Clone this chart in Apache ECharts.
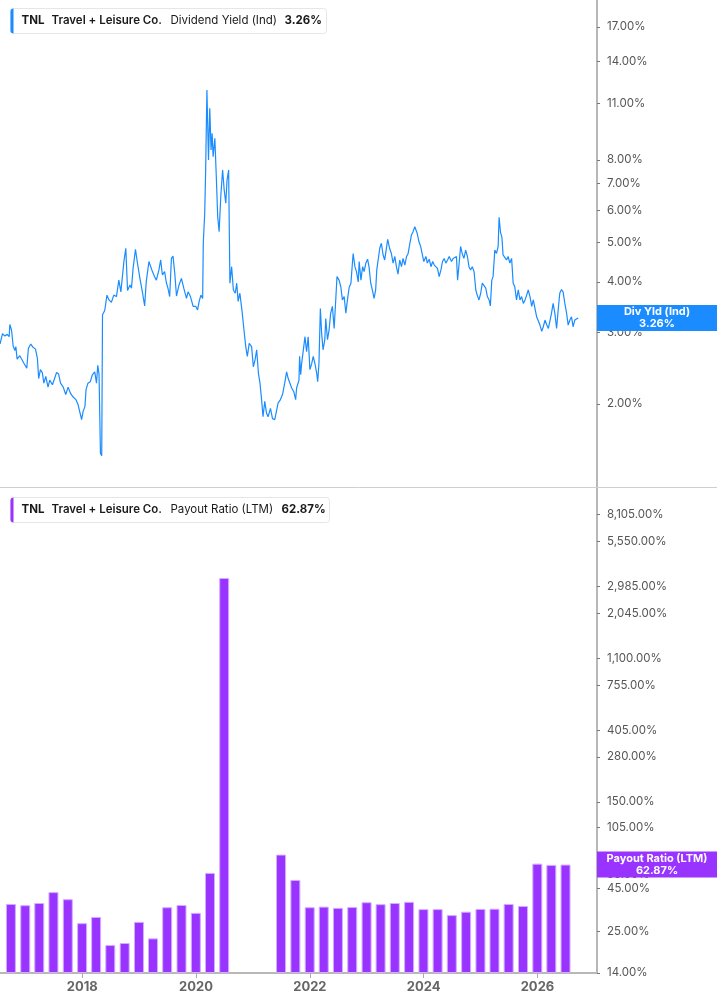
<!DOCTYPE html>
<html>
<head>
<meta charset="utf-8">
<script src="https://cdn.jsdelivr.net/npm/echarts@6/dist/echarts.min.js"></script>
<style>
html,body{margin:0;padding:0;background:#fff;}
#chart{width:717px;height:1005px;}
</style>
</head>
<body>
<div id="chart"></div>
<script>
// ---------- DATA ----------
const ticker = 'TNL';
const company = 'Travel + Leisure Co.';
const yieldName = 'Dividend Yield (Ind)';
const yieldShort = 'Div Yld (Ind)';
const payoutName = 'Payout Ratio (LTM)';

const divYieldDates = [
'2016-08-23','2016-09-08','2016-09-23','2016-10-07','2016-10-20','2016-10-24','2016-11-04','2016-11-14','2016-11-25','2016-12-01',
'2016-12-09','2016-12-26','2017-01-07','2017-01-21','2017-02-08','2017-02-18','2017-03-05','2017-03-19','2017-04-04','2017-04-16',
'2017-04-24','2017-05-05','2017-05-17','2017-05-27','2017-06-08','2017-06-22','2017-07-03','2017-07-20','2017-07-30','2017-08-15',
'2017-08-28','2017-09-09','2017-09-26','2017-10-12','2017-10-27','2017-11-12','2017-11-28','2017-12-15','2017-12-29','2018-01-10',
'2018-01-20','2018-01-30','2018-02-10','2018-02-17','2018-03-01','2018-03-16','2018-03-29','2018-04-13','2018-04-24','2018-05-02',
'2018-05-10','2018-05-19','2018-05-27','2018-06-01','2018-06-15','2018-06-29','2018-07-12','2018-07-27','2018-08-11','2018-08-28',
'2018-09-12','2018-09-25','2018-10-14','2018-10-26','2018-11-06','2018-11-21','2018-12-01','2018-12-11','2018-12-26','2019-01-06',
'2019-01-23','2019-02-09','2019-02-22','2019-03-04','2019-03-21','2019-03-25','2019-04-12','2019-04-26','2019-05-07','2019-05-23',
'2019-06-03','2019-06-14','2019-06-28','2019-07-09','2019-07-19','2019-07-30','2019-08-10','2019-08-20','2019-08-31','2019-09-11',
'2019-09-27','2019-10-12','2019-10-27','2019-11-13','2019-11-23','2019-12-08','2019-12-25','2020-01-11','2020-01-22','2020-02-01',
'2020-02-12','2020-02-23','2020-02-27','2020-03-07','2020-03-13','2020-03-21','2020-03-31','2020-04-08','2020-04-16','2020-04-23',
'2020-04-29','2020-05-10','2020-05-20','2020-05-28','2020-06-06','2020-06-17','2020-06-28','2020-07-08','2020-07-18','2020-07-26',
'2020-08-05','2020-08-13','2020-08-24','2020-09-04','2020-09-16','2020-09-25','2020-10-04','2020-10-15','2020-10-30','2020-11-10',
'2020-11-21','2020-12-01','2020-12-13','2020-12-28','2021-01-08','2021-01-19','2021-01-29','2021-02-09','2021-02-19','2021-03-01',
'2021-03-10','2021-03-21','2021-04-01','2021-04-11','2021-04-26','2021-05-09','2021-05-23','2021-06-03','2021-06-13','2021-06-28',
'2021-07-11','2021-07-25','2021-08-06','2021-08-16','2021-08-27','2021-09-07','2021-09-21','2021-10-02','2021-10-08','2021-10-23',
'2021-10-27','2021-11-03','2021-11-08','2021-11-17','2021-11-30','2021-12-10','2021-12-20','2021-12-31','2022-01-11','2022-01-21',
'2022-02-01','2022-02-12','2022-02-18','2022-02-26','2022-03-07','2022-03-15','2022-03-24','2022-04-04','2022-04-10','2022-04-21',
'2022-05-01','2022-05-11','2022-05-22','2022-06-02','2022-06-12','2022-06-20','2022-07-03','2022-07-14','2022-07-24','2022-08-04',
'2022-08-15','2022-08-25','2022-09-05','2022-09-16','2022-09-26','2022-09-30','2022-10-11','2022-10-21','2022-11-01','2022-11-07',
'2022-11-18','2022-11-29','2022-12-08','2022-12-19','2022-12-30','2023-01-08','2023-01-19','2023-01-29','2023-02-09','2023-02-19',
'2023-02-26','2023-03-06','2023-03-17','2023-03-27','2023-04-07','2023-04-17','2023-04-28','2023-05-06','2023-05-18','2023-05-29',
'2023-06-09','2023-06-20','2023-06-30','2023-07-10','2023-07-21','2023-08-01','2023-08-11','2023-08-22','2023-09-02','2023-09-12',
'2023-09-23','2023-10-03','2023-10-13','2023-10-24','2023-10-31','2023-11-08','2023-11-19','2023-11-30','2023-12-09','2023-12-20',
'2024-01-02','2024-01-11','2024-01-23','2024-02-03','2024-02-14','2024-02-24','2024-03-05','2024-03-15','2024-03-26','2024-04-06',
'2024-04-16','2024-04-26','2024-05-07','2024-05-18','2024-05-28','2024-06-12','2024-06-22','2024-07-03','2024-07-13','2024-07-20',
'2024-07-28','2024-08-08','2024-08-18','2024-08-29','2024-09-09','2024-09-20','2024-09-30','2024-10-10','2024-10-21','2024-11-01',
'2024-11-12','2024-11-21','2024-12-02','2024-12-13','2024-12-23','2025-01-03','2025-01-14','2025-01-24','2025-02-04','2025-02-12',
'2025-02-21','2025-03-01','2025-03-12','2025-03-23','2025-04-02','2025-04-08','2025-04-17','2025-04-26','2025-05-03','2025-05-14',
'2025-05-25','2025-06-04','2025-06-15','2025-06-26','2025-07-06','2025-07-16','2025-07-27','2025-08-07','2025-08-18','2025-08-28',
'2025-09-08','2025-09-19','2025-09-29','2025-10-09','2025-10-20','2025-10-31','2025-11-10','2025-11-21','2025-12-01','2025-12-11',
'2025-12-22','2026-01-02','2026-01-12','2026-01-23','2026-02-03','2026-02-13','2026-02-24','2026-03-05','2026-03-15','2026-03-26',
'2026-04-06','2026-04-16','2026-04-26','2026-05-07','2026-05-17','2026-05-28','2026-06-08','2026-06-18','2026-06-29','2026-07-09',
'2026-07-19','2026-07-30','2026-08-10','2026-08-20'
];
const divYieldValues = [
2.81,2.98,2.94,2.97,2.93,3.14,3.04,2.78,2.71,2.77,
2.58,2.63,2.61,2.52,2.45,2.74,2.81,2.76,2.73,2.59,
2.31,2.43,2.39,2.25,2.34,2.20,2.29,2.23,2.22,2.39,
2.37,2.25,2.20,2.11,2.20,2.12,2.08,2.05,1.99,1.97,
1.83,1.92,1.97,2.17,2.25,2.27,2.36,2.40,2.25,2.49,
2.37,1.51,1.49,3.32,3.40,3.71,3.61,3.56,3.71,3.68,
4.04,3.78,4.49,4.84,3.81,3.93,3.86,4.32,4.81,4.49,
4.08,3.75,3.49,4.00,4.49,4.53,4.24,4.12,4.04,4.28,
4.53,4.16,4.24,3.98,3.86,3.68,4.57,4.63,4.20,3.69,
3.93,4.08,3.86,3.64,3.78,3.68,3.48,3.48,3.41,3.58,
3.71,3.64,4.98,5.90,7.55,11.89,7.99,10.72,8.46,9.30,
8.14,9.04,7.13,5.79,5.32,6.55,7.55,6.74,6.25,7.13,
7.55,3.97,4.36,3.82,3.75,3.97,3.58,3.75,3.35,3.04,
2.77,2.62,2.82,2.77,2.47,2.57,2.72,2.38,2.25,2.05,
1.86,2.03,1.90,1.86,1.95,1.84,1.83,1.92,2.01,2.05,
2.11,2.25,2.40,2.31,2.25,2.19,2.14,2.05,2.19,2.29,
2.62,2.36,2.50,2.50,2.93,2.69,2.93,2.43,2.51,2.62,
2.51,2.38,2.27,2.51,3.44,2.99,2.72,2.88,3.25,2.88,
3.04,3.35,3.48,3.07,3.61,4.12,4.04,3.89,3.61,3.68,
3.35,3.61,3.88,3.97,4.49,4.70,4.36,4.24,4.00,4.49,
4.04,4.36,4.24,4.45,4.55,4.36,3.97,3.82,3.64,3.82,
4.28,4.24,4.84,4.98,4.66,4.53,4.57,5.09,4.84,4.70,
4.45,4.62,4.36,4.18,4.53,4.36,4.57,4.40,4.62,4.70,
4.98,5.22,5.32,5.47,5.53,5.27,5.03,4.89,4.70,4.49,
4.62,4.45,4.55,4.36,4.49,4.40,4.45,4.32,4.12,4.28,
4.49,4.57,4.45,4.53,4.62,4.49,4.57,4.53,4.62,4.04,
4.36,4.89,4.70,4.57,4.79,4.62,4.36,4.28,4.36,4.24,
3.82,3.71,3.61,3.75,3.97,4.00,3.86,3.68,3.61,3.49,
4.04,4.12,4.79,4.70,4.89,5.77,5.30,5.15,4.66,4.70,
4.53,4.62,4.45,4.57,3.97,3.89,3.61,3.82,3.61,3.68,
3.54,3.61,3.71,3.82,3.68,3.48,3.61,3.64,3.28,3.25,
3.13,3.02,3.10,3.22,3.13,3.07,3.22,3.35,3.54,3.35,
3.07,3.41,3.75,3.83,3.78,3.54,3.35,3.13,3.22,3.28,
3.10,3.22,3.25,3.26
];

const payoutDates = [
'2016-09-30','2016-12-31','2017-03-31','2017-06-30','2017-09-30','2017-12-31','2018-03-31','2018-06-30','2018-09-30','2018-12-31',
'2019-03-31','2019-06-30','2019-09-30','2019-12-31','2020-03-31','2020-06-30','2020-09-30','2020-12-31','2021-03-31','2021-06-30',
'2021-09-30','2021-12-31','2022-03-31','2022-06-30','2022-09-30','2022-12-31','2023-03-31','2023-06-30','2023-09-30','2023-12-31',
'2024-03-31','2024-06-30','2024-09-30','2024-12-31','2025-03-31','2025-06-30','2025-09-30','2025-12-31','2026-03-31','2026-06-30'
];
const payoutValues = [
36.4,35.8,36.9,42.9,38.9,27.9,30.4,20.6,21.2,28.4,
22.6,34.8,35.9,32.2,56.0,3344,null,null,null,72.2,
50.8,34.8,35.1,34.5,34.9,37.3,36.3,36.9,37.5,33.9,
33.9,31.2,32.7,34.0,34.1,36.4,35.4,63.7,62.6,62.87
];

const yieldTicks = [2, 3, 4, 5, 6, 7, 8, 11, 14, 17];
const payoutTicks = [14, 25, 45, 55, 105, 150, 280, 405, 755, 1100, 2045, 2985, 5550, 8105];

// ---------- STYLE ----------
const BLUE = '#1a8cff';
const PURPLE = '#9933ff';
const FONT = 'Inter, Roboto, "Noto Sans", sans-serif';
const xMin = '2016-08-23';
const xMax = '2026-12-17';
const TWO_YEARS = 2 * 365.25 * 86400000;

const fmtPct = v => Number(v).toLocaleString('en-US', {minimumFractionDigits: 2, maximumFractionDigits: 2}) + '%';

const lastYield = divYieldValues[divYieldValues.length - 1];
const lastPayout = payoutValues[payoutValues.length - 1];

function legend(y, color, metric, value, valueX, boxW) {
  const h = 25;
  const fs = '11.5px ';
  return {
    type: 'group', left: 10, top: y, z: 100,
    children: [
      {type: 'rect', shape: {x: 0, y: 0, width: boxW, height: h, r: 3}, style: {fill: '#fff', stroke: '#e6e6e6', lineWidth: 1}},
      {type: 'rect', shape: {x: 0, y: 0, width: 3, height: h, r: [3, 0, 0, 3]}, style: {fill: color}},
      {type: 'text', x: 11, y: h / 2, style: {text: ticker, font: 'bold ' + fs + FONT, fill: '#1a1a1a', verticalAlign: 'middle'}},
      {type: 'text', x: 41, y: h / 2, style: {text: company, font: '600 ' + fs + FONT, fill: '#1a1a1a', verticalAlign: 'middle'}},
      {type: 'text', x: 160, y: h / 2, style: {text: metric, font: fs + FONT, fill: '#1a1a1a', verticalAlign: 'middle'}},
      {type: 'text', x: valueX, y: h / 2, style: {text: value, font: 'bold ' + fs + FONT, fill: '#1a1a1a', verticalAlign: 'middle'}}
    ]
  };
}

function valueMarkLine(name, value, color) {
  return {
    silent: true, symbol: ['none', 'none'], animation: false,
    lineStyle: {color: 'rgba(0,0,0,0)', width: 1, type: 'solid'},
    emphasis: {disabled: true},
    data: [{yAxis: value}],
    label: {
      show: true, position: 'end', distance: 0,
      backgroundColor: color, padding: [1, 0, 1, 0],
      formatter: '{t|' + name + '}\n{t|' + fmtPct(value) + '}',
      rich: {t: {width: 120, align: 'center', color: '#fff', fontWeight: 'bold', fontSize: 11, lineHeight: 12, fontFamily: FONT}}
    }
  };
}

const chart = echarts.init(document.getElementById('chart'), null, {renderer: 'canvas'});
chart.setOption({
  animation: false,
  backgroundColor: '#fff',
  textStyle: {fontFamily: FONT},
  grid: [
    {left: 0, right: 120, top: 0, height: 487},
    {left: 0, right: 120, top: 488, bottom: 32}
  ],
  xAxis: [
    {type: 'time', gridIndex: 0, min: xMin, max: xMax,
     axisLine: {show: false}, axisTick: {show: false}, axisLabel: {show: false}, splitLine: {show: false}},
    {type: 'time', gridIndex: 1, min: xMin, max: xMax,
     minInterval: TWO_YEARS * 0.99, maxInterval: TWO_YEARS * 1.01,
     axisLine: {show: true, onZero: false, lineStyle: {color: '#b8b8b8', width: 2}},
     axisTick: {show: true, length: 5, lineStyle: {color: '#aaa'}},
     axisLabel: {show: true, formatter: '{yyyy}', showMinLabel: false, showMaxLabel: false,
                 fontWeight: 'bold', fontSize: 13, color: '#666', margin: 8},
     splitLine: {show: false}}
  ],
  yAxis: [
    {type: 'log', gridIndex: 0, position: 'right', min: 1.248, max: 19.82,
     axisLine: {show: true, lineStyle: {color: '#b8b8b8', width: 2}},
     axisTick: {show: true, customValues: yieldTicks, length: 3, lineStyle: {color: '#777'}},
     axisLabel: {show: true, customValues: yieldTicks, formatter: fmtPct, color: '#555', fontSize: 11.5, margin: 10},
     splitLine: {show: false}},
    {type: 'log', gridIndex: 1, position: 'right', min: 13.98, max: 11645, startValue: 13.98,
     axisLine: {show: true, lineStyle: {color: '#b8b8b8', width: 2}},
     axisTick: {show: true, customValues: payoutTicks, length: 3, lineStyle: {color: '#777'}},
     axisLabel: {show: true, customValues: payoutTicks, formatter: fmtPct, color: '#555', fontSize: 11.5, margin: 10},
     splitLine: {show: false}}
  ],
  series: [
    {type: 'line', name: yieldName, xAxisIndex: 0, yAxisIndex: 0,
     data: divYieldDates.map((d, i) => [d, divYieldValues[i]]),
     showSymbol: false, symbol: 'none', lineStyle: {color: BLUE, width: 1.2}, itemStyle: {color: BLUE},
     markLine: valueMarkLine(yieldShort, lastYield, BLUE)},
    {type: 'bar', name: payoutName, xAxisIndex: 1, yAxisIndex: 1, clip: true,
     data: payoutDates.map((d, i) => [d, payoutValues[i]]),
     barWidth: 10, itemStyle: {color: PURPLE, borderColor: '#d4adff', borderWidth: 1},
     markLine: valueMarkLine(payoutName, lastPayout, PURPLE)}
  ],
  graphic: [
    {type: 'line', z: 50, shape: {x1: 0, y1: 487.5, x2: 717, y2: 487.5}, style: {stroke: '#cfcfcf', lineWidth: 1}},
    legend(8, BLUE, yieldName, fmtPct(lastYield), 274, 316),
    legend(497, PURPLE, payoutName, fmtPct(lastPayout), 271, 319)
  ]
});
</script>
</body>
</html>
